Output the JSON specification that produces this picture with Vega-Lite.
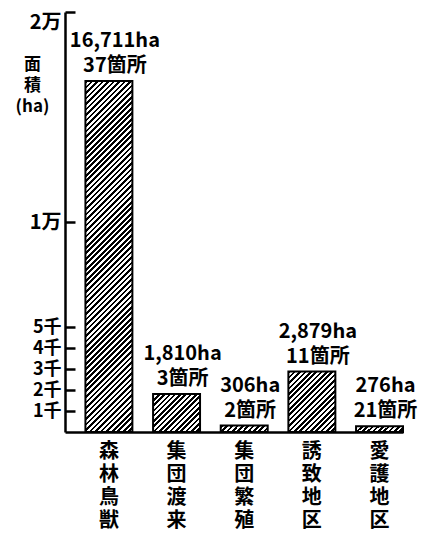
{
"$schema":"https://vega.github.io/schema/vega-lite/v6.json",
"autosize":"none",
"width":338,"height":420,
"padding":{"left":65,"top":12,"right":25,"bottom":104},
"background":"#ffffff",
"config":{"view":{"stroke":null},"font":"Noto Sans CJK JP"},
"data":{"values":[
{"cat":"森林鳥獣","area":16711,"sites":37},
{"cat":"集団渡来","area":1810,"sites":3},
{"cat":"集団繁殖","area":306,"sites":2},
{"cat":"誘致地区","area":2879,"sites":11},
{"cat":"愛護地区","area":276,"sites":21}
]},
"transform":[
{"calculate":"format(datum.area, ',') + 'ha'","as":"l1"},
{"calculate":"datum.sites + '箇所'","as":"l2"}
],
"encoding":{
"x":{"field":"cat","type":"nominal","sort":null,
"scale":{"paddingInner":0.306,"paddingOuter":0.151,"align":1},
"axis":{"title":null,"ticks":false,"labelAngle":0,"labelExpr":"split(datum.label, '')","labelBaseline":"top","labelLineHeight":23,"labelFontSize":20,"labelFontWeight":"bold","labelColor":"#000","labelPadding":9,"domainColor":"#000","domainWidth":2.5}}
},
"resolve":{"axis":{"y":"independent"}},
"layer":[
{"mark":{"type":"bar","stroke":"#000","strokeWidth":2},
"encoding":{
"y":{"field":"area","type":"quantitative",
"scale":{"domain":[0,20000],"nice":false},
"axis":{"orient":"left","values":[1000,2000,3000,4000,5000,10000,20000],"grid":false,"ticks":false,
"labelExpr":"datum.value >= 10000 ? (datum.value/10000) + '万' : (datum.value/1000) + '千'",
"labelFontSize":{"condition":{"test":"datum.value < 10000","value":18},"value":20},
"labelFontWeight":"bold","labelColor":"#000","labelFlush":true,"labelPadding":4,
"domainColor":"#000","domainWidth":2.5,
"title":["面","積","(ha)"],"titleAngle":0,"titleX":-33,"titleY":44,"titleAlign":"center","titleBaseline":"top","titleFontSize":17,"titleFontWeight":"bold","titleLineHeight":21,"titleColor":"#000"}},
"fill":{"condition":[
{"test":"datum.cat==='森林鳥獣'","value":{"gradient":"linear","x1":0,"y1":0,"x2":0.14902,"y2":1.11385,"stops":[
{"offset":0.0069,"color":"#000"},{"offset":0.0069,"color":"#fff"},
{"offset":0.0139,"color":"#fff"},{"offset":0.0139,"color":"#000"},
{"offset":0.0208,"color":"#000"},{"offset":0.0208,"color":"#fff"},
{"offset":0.0278,"color":"#fff"},{"offset":0.0278,"color":"#000"},
{"offset":0.0347,"color":"#000"},{"offset":0.0347,"color":"#fff"},
{"offset":0.0417,"color":"#fff"},{"offset":0.0417,"color":"#000"},
{"offset":0.0486,"color":"#000"},{"offset":0.0486,"color":"#fff"},
{"offset":0.0556,"color":"#fff"},{"offset":0.0556,"color":"#000"},
{"offset":0.0625,"color":"#000"},{"offset":0.0625,"color":"#fff"},
{"offset":0.0694,"color":"#fff"},{"offset":0.0694,"color":"#000"},
{"offset":0.0764,"color":"#000"},{"offset":0.0764,"color":"#fff"},
{"offset":0.0833,"color":"#fff"},{"offset":0.0833,"color":"#000"},
{"offset":0.0903,"color":"#000"},{"offset":0.0903,"color":"#fff"},
{"offset":0.0972,"color":"#fff"},{"offset":0.0972,"color":"#000"},
{"offset":0.1042,"color":"#000"},{"offset":0.1042,"color":"#fff"},
{"offset":0.1111,"color":"#fff"},{"offset":0.1111,"color":"#000"},
{"offset":0.1181,"color":"#000"},{"offset":0.1181,"color":"#fff"},
{"offset":0.125,"color":"#fff"},{"offset":0.125,"color":"#000"},
{"offset":0.1319,"color":"#000"},{"offset":0.1319,"color":"#fff"},
{"offset":0.1389,"color":"#fff"},{"offset":0.1389,"color":"#000"},
{"offset":0.1458,"color":"#000"},{"offset":0.1458,"color":"#fff"},
{"offset":0.1528,"color":"#fff"},{"offset":0.1528,"color":"#000"},
{"offset":0.1597,"color":"#000"},{"offset":0.1597,"color":"#fff"},
{"offset":0.1667,"color":"#fff"},{"offset":0.1667,"color":"#000"},
{"offset":0.1736,"color":"#000"},{"offset":0.1736,"color":"#fff"},
{"offset":0.1806,"color":"#fff"},{"offset":0.1806,"color":"#000"},
{"offset":0.1875,"color":"#000"},{"offset":0.1875,"color":"#fff"},
{"offset":0.1944,"color":"#fff"},{"offset":0.1944,"color":"#000"},
{"offset":0.2014,"color":"#000"},{"offset":0.2014,"color":"#fff"},
{"offset":0.2083,"color":"#fff"},{"offset":0.2083,"color":"#000"},
{"offset":0.2153,"color":"#000"},{"offset":0.2153,"color":"#fff"},
{"offset":0.2222,"color":"#fff"},{"offset":0.2222,"color":"#000"},
{"offset":0.2292,"color":"#000"},{"offset":0.2292,"color":"#fff"},
{"offset":0.2361,"color":"#fff"},{"offset":0.2361,"color":"#000"},
{"offset":0.2431,"color":"#000"},{"offset":0.2431,"color":"#fff"},
{"offset":0.25,"color":"#fff"},{"offset":0.25,"color":"#000"},
{"offset":0.2569,"color":"#000"},{"offset":0.2569,"color":"#fff"},
{"offset":0.2639,"color":"#fff"},{"offset":0.2639,"color":"#000"},
{"offset":0.2708,"color":"#000"},{"offset":0.2708,"color":"#fff"},
{"offset":0.2778,"color":"#fff"},{"offset":0.2778,"color":"#000"},
{"offset":0.2847,"color":"#000"},{"offset":0.2847,"color":"#fff"},
{"offset":0.2917,"color":"#fff"},{"offset":0.2917,"color":"#000"},
{"offset":0.2986,"color":"#000"},{"offset":0.2986,"color":"#fff"},
{"offset":0.3056,"color":"#fff"},{"offset":0.3056,"color":"#000"},
{"offset":0.3125,"color":"#000"},{"offset":0.3125,"color":"#fff"},
{"offset":0.3194,"color":"#fff"},{"offset":0.3194,"color":"#000"},
{"offset":0.3264,"color":"#000"},{"offset":0.3264,"color":"#fff"},
{"offset":0.3333,"color":"#fff"},{"offset":0.3333,"color":"#000"},
{"offset":0.3403,"color":"#000"},{"offset":0.3403,"color":"#fff"},
{"offset":0.3472,"color":"#fff"},{"offset":0.3472,"color":"#000"},
{"offset":0.3542,"color":"#000"},{"offset":0.3542,"color":"#fff"},
{"offset":0.3611,"color":"#fff"},{"offset":0.3611,"color":"#000"},
{"offset":0.3681,"color":"#000"},{"offset":0.3681,"color":"#fff"},
{"offset":0.375,"color":"#fff"},{"offset":0.375,"color":"#000"},
{"offset":0.3819,"color":"#000"},{"offset":0.3819,"color":"#fff"},
{"offset":0.3889,"color":"#fff"},{"offset":0.3889,"color":"#000"},
{"offset":0.3958,"color":"#000"},{"offset":0.3958,"color":"#fff"},
{"offset":0.4028,"color":"#fff"},{"offset":0.4028,"color":"#000"},
{"offset":0.4097,"color":"#000"},{"offset":0.4097,"color":"#fff"},
{"offset":0.4167,"color":"#fff"},{"offset":0.4167,"color":"#000"},
{"offset":0.4236,"color":"#000"},{"offset":0.4236,"color":"#fff"},
{"offset":0.4306,"color":"#fff"},{"offset":0.4306,"color":"#000"},
{"offset":0.4375,"color":"#000"},{"offset":0.4375,"color":"#fff"},
{"offset":0.4444,"color":"#fff"},{"offset":0.4444,"color":"#000"},
{"offset":0.4514,"color":"#000"},{"offset":0.4514,"color":"#fff"},
{"offset":0.4583,"color":"#fff"},{"offset":0.4583,"color":"#000"},
{"offset":0.4653,"color":"#000"},{"offset":0.4653,"color":"#fff"},
{"offset":0.4722,"color":"#fff"},{"offset":0.4722,"color":"#000"},
{"offset":0.4792,"color":"#000"},{"offset":0.4792,"color":"#fff"},
{"offset":0.4861,"color":"#fff"},{"offset":0.4861,"color":"#000"},
{"offset":0.4931,"color":"#000"},{"offset":0.4931,"color":"#fff"},
{"offset":0.5,"color":"#fff"},{"offset":0.5,"color":"#000"},
{"offset":0.5069,"color":"#000"},{"offset":0.5069,"color":"#fff"},
{"offset":0.5139,"color":"#fff"},{"offset":0.5139,"color":"#000"},
{"offset":0.5208,"color":"#000"},{"offset":0.5208,"color":"#fff"},
{"offset":0.5278,"color":"#fff"},{"offset":0.5278,"color":"#000"},
{"offset":0.5347,"color":"#000"},{"offset":0.5347,"color":"#fff"},
{"offset":0.5417,"color":"#fff"},{"offset":0.5417,"color":"#000"},
{"offset":0.5486,"color":"#000"},{"offset":0.5486,"color":"#fff"},
{"offset":0.5556,"color":"#fff"},{"offset":0.5556,"color":"#000"},
{"offset":0.5625,"color":"#000"},{"offset":0.5625,"color":"#fff"},
{"offset":0.5694,"color":"#fff"},{"offset":0.5694,"color":"#000"},
{"offset":0.5764,"color":"#000"},{"offset":0.5764,"color":"#fff"},
{"offset":0.5833,"color":"#fff"},{"offset":0.5833,"color":"#000"},
{"offset":0.5903,"color":"#000"},{"offset":0.5903,"color":"#fff"},
{"offset":0.5972,"color":"#fff"},{"offset":0.5972,"color":"#000"},
{"offset":0.6042,"color":"#000"},{"offset":0.6042,"color":"#fff"},
{"offset":0.6111,"color":"#fff"},{"offset":0.6111,"color":"#000"},
{"offset":0.6181,"color":"#000"},{"offset":0.6181,"color":"#fff"},
{"offset":0.625,"color":"#fff"},{"offset":0.625,"color":"#000"},
{"offset":0.6319,"color":"#000"},{"offset":0.6319,"color":"#fff"},
{"offset":0.6389,"color":"#fff"},{"offset":0.6389,"color":"#000"},
{"offset":0.6458,"color":"#000"},{"offset":0.6458,"color":"#fff"},
{"offset":0.6528,"color":"#fff"},{"offset":0.6528,"color":"#000"},
{"offset":0.6597,"color":"#000"},{"offset":0.6597,"color":"#fff"},
{"offset":0.6667,"color":"#fff"},{"offset":0.6667,"color":"#000"},
{"offset":0.6736,"color":"#000"},{"offset":0.6736,"color":"#fff"},
{"offset":0.6806,"color":"#fff"},{"offset":0.6806,"color":"#000"},
{"offset":0.6875,"color":"#000"},{"offset":0.6875,"color":"#fff"},
{"offset":0.6944,"color":"#fff"},{"offset":0.6944,"color":"#000"},
{"offset":0.7014,"color":"#000"},{"offset":0.7014,"color":"#fff"},
{"offset":0.7083,"color":"#fff"},{"offset":0.7083,"color":"#000"},
{"offset":0.7153,"color":"#000"},{"offset":0.7153,"color":"#fff"},
{"offset":0.7222,"color":"#fff"},{"offset":0.7222,"color":"#000"},
{"offset":0.7292,"color":"#000"},{"offset":0.7292,"color":"#fff"},
{"offset":0.7361,"color":"#fff"},{"offset":0.7361,"color":"#000"},
{"offset":0.7431,"color":"#000"},{"offset":0.7431,"color":"#fff"},
{"offset":0.75,"color":"#fff"},{"offset":0.75,"color":"#000"},
{"offset":0.7569,"color":"#000"},{"offset":0.7569,"color":"#fff"},
{"offset":0.7639,"color":"#fff"},{"offset":0.7639,"color":"#000"},
{"offset":0.7708,"color":"#000"},{"offset":0.7708,"color":"#fff"},
{"offset":0.7778,"color":"#fff"},{"offset":0.7778,"color":"#000"},
{"offset":0.7847,"color":"#000"},{"offset":0.7847,"color":"#fff"},
{"offset":0.7917,"color":"#fff"},{"offset":0.7917,"color":"#000"},
{"offset":0.7986,"color":"#000"},{"offset":0.7986,"color":"#fff"},
{"offset":0.8056,"color":"#fff"},{"offset":0.8056,"color":"#000"},
{"offset":0.8125,"color":"#000"},{"offset":0.8125,"color":"#fff"},
{"offset":0.8194,"color":"#fff"},{"offset":0.8194,"color":"#000"},
{"offset":0.8264,"color":"#000"},{"offset":0.8264,"color":"#fff"},
{"offset":0.8333,"color":"#fff"},{"offset":0.8333,"color":"#000"},
{"offset":0.8403,"color":"#000"},{"offset":0.8403,"color":"#fff"},
{"offset":0.8472,"color":"#fff"},{"offset":0.8472,"color":"#000"},
{"offset":0.8542,"color":"#000"},{"offset":0.8542,"color":"#fff"},
{"offset":0.8611,"color":"#fff"},{"offset":0.8611,"color":"#000"},
{"offset":0.8681,"color":"#000"},{"offset":0.8681,"color":"#fff"},
{"offset":0.875,"color":"#fff"},{"offset":0.875,"color":"#000"},
{"offset":0.8819,"color":"#000"},{"offset":0.8819,"color":"#fff"},
{"offset":0.8889,"color":"#fff"},{"offset":0.8889,"color":"#000"},
{"offset":0.8958,"color":"#000"},{"offset":0.8958,"color":"#fff"},
{"offset":0.9028,"color":"#fff"},{"offset":0.9028,"color":"#000"},
{"offset":0.9097,"color":"#000"},{"offset":0.9097,"color":"#fff"},
{"offset":0.9167,"color":"#fff"},{"offset":0.9167,"color":"#000"},
{"offset":0.9236,"color":"#000"},{"offset":0.9236,"color":"#fff"},
{"offset":0.9306,"color":"#fff"},{"offset":0.9306,"color":"#000"},
{"offset":0.9375,"color":"#000"},{"offset":0.9375,"color":"#fff"},
{"offset":0.9444,"color":"#fff"},{"offset":0.9444,"color":"#000"},
{"offset":0.9514,"color":"#000"},{"offset":0.9514,"color":"#fff"},
{"offset":0.9583,"color":"#fff"},{"offset":0.9583,"color":"#000"},
{"offset":0.9653,"color":"#000"},{"offset":0.9653,"color":"#fff"},
{"offset":0.9722,"color":"#fff"},{"offset":0.9722,"color":"#000"},
{"offset":0.9792,"color":"#000"},{"offset":0.9792,"color":"#fff"},
{"offset":0.9861,"color":"#fff"},{"offset":0.9861,"color":"#000"},
{"offset":0.9931,"color":"#000"},{"offset":0.9931,"color":"#fff"}
]}},
{"test":"datum.cat==='集団渡来'","value":{"gradient":"linear","x1":0,"y1":0,"x2":1.0931,"y2":0.885,"stops":[
{"offset":0.0313,"color":"#000"},{"offset":0.0313,"color":"#fff"},
{"offset":0.0625,"color":"#fff"},{"offset":0.0625,"color":"#000"},
{"offset":0.0938,"color":"#000"},{"offset":0.0938,"color":"#fff"},
{"offset":0.125,"color":"#fff"},{"offset":0.125,"color":"#000"},
{"offset":0.1563,"color":"#000"},{"offset":0.1563,"color":"#fff"},
{"offset":0.1875,"color":"#fff"},{"offset":0.1875,"color":"#000"},
{"offset":0.2188,"color":"#000"},{"offset":0.2188,"color":"#fff"},
{"offset":0.25,"color":"#fff"},{"offset":0.25,"color":"#000"},
{"offset":0.2813,"color":"#000"},{"offset":0.2813,"color":"#fff"},
{"offset":0.3125,"color":"#fff"},{"offset":0.3125,"color":"#000"},
{"offset":0.3438,"color":"#000"},{"offset":0.3438,"color":"#fff"},
{"offset":0.375,"color":"#fff"},{"offset":0.375,"color":"#000"},
{"offset":0.4063,"color":"#000"},{"offset":0.4063,"color":"#fff"},
{"offset":0.4375,"color":"#fff"},{"offset":0.4375,"color":"#000"},
{"offset":0.4688,"color":"#000"},{"offset":0.4688,"color":"#fff"},
{"offset":0.5,"color":"#fff"},{"offset":0.5,"color":"#000"},
{"offset":0.5313,"color":"#000"},{"offset":0.5313,"color":"#fff"},
{"offset":0.5625,"color":"#fff"},{"offset":0.5625,"color":"#000"},
{"offset":0.5938,"color":"#000"},{"offset":0.5938,"color":"#fff"},
{"offset":0.625,"color":"#fff"},{"offset":0.625,"color":"#000"},
{"offset":0.6563,"color":"#000"},{"offset":0.6563,"color":"#fff"},
{"offset":0.6875,"color":"#fff"},{"offset":0.6875,"color":"#000"},
{"offset":0.7188,"color":"#000"},{"offset":0.7188,"color":"#fff"},
{"offset":0.75,"color":"#fff"},{"offset":0.75,"color":"#000"},
{"offset":0.7813,"color":"#000"},{"offset":0.7813,"color":"#fff"},
{"offset":0.8125,"color":"#fff"},{"offset":0.8125,"color":"#000"},
{"offset":0.8438,"color":"#000"},{"offset":0.8438,"color":"#fff"},
{"offset":0.875,"color":"#fff"},{"offset":0.875,"color":"#000"},
{"offset":0.9063,"color":"#000"},{"offset":0.9063,"color":"#fff"},
{"offset":0.9375,"color":"#fff"},{"offset":0.9375,"color":"#000"},
{"offset":0.9688,"color":"#000"},{"offset":0.9688,"color":"#fff"}
]}},
{"test":"datum.cat==='誘致地区'","value":{"gradient":"linear","x1":0,"y1":0,"x2":0.8606,"y2":1.1082,"stops":[
{"offset":0.025,"color":"#000"},{"offset":0.025,"color":"#fff"},
{"offset":0.05,"color":"#fff"},{"offset":0.05,"color":"#000"},
{"offset":0.075,"color":"#000"},{"offset":0.075,"color":"#fff"},
{"offset":0.1,"color":"#fff"},{"offset":0.1,"color":"#000"},
{"offset":0.125,"color":"#000"},{"offset":0.125,"color":"#fff"},
{"offset":0.15,"color":"#fff"},{"offset":0.15,"color":"#000"},
{"offset":0.175,"color":"#000"},{"offset":0.175,"color":"#fff"},
{"offset":0.2,"color":"#fff"},{"offset":0.2,"color":"#000"},
{"offset":0.225,"color":"#000"},{"offset":0.225,"color":"#fff"},
{"offset":0.25,"color":"#fff"},{"offset":0.25,"color":"#000"},
{"offset":0.275,"color":"#000"},{"offset":0.275,"color":"#fff"},
{"offset":0.3,"color":"#fff"},{"offset":0.3,"color":"#000"},
{"offset":0.325,"color":"#000"},{"offset":0.325,"color":"#fff"},
{"offset":0.35,"color":"#fff"},{"offset":0.35,"color":"#000"},
{"offset":0.375,"color":"#000"},{"offset":0.375,"color":"#fff"},
{"offset":0.4,"color":"#fff"},{"offset":0.4,"color":"#000"},
{"offset":0.425,"color":"#000"},{"offset":0.425,"color":"#fff"},
{"offset":0.45,"color":"#fff"},{"offset":0.45,"color":"#000"},
{"offset":0.475,"color":"#000"},{"offset":0.475,"color":"#fff"},
{"offset":0.5,"color":"#fff"},{"offset":0.5,"color":"#000"},
{"offset":0.525,"color":"#000"},{"offset":0.525,"color":"#fff"},
{"offset":0.55,"color":"#fff"},{"offset":0.55,"color":"#000"},
{"offset":0.575,"color":"#000"},{"offset":0.575,"color":"#fff"},
{"offset":0.6,"color":"#fff"},{"offset":0.6,"color":"#000"},
{"offset":0.625,"color":"#000"},{"offset":0.625,"color":"#fff"},
{"offset":0.65,"color":"#fff"},{"offset":0.65,"color":"#000"},
{"offset":0.675,"color":"#000"},{"offset":0.675,"color":"#fff"},
{"offset":0.7,"color":"#fff"},{"offset":0.7,"color":"#000"},
{"offset":0.725,"color":"#000"},{"offset":0.725,"color":"#fff"},
{"offset":0.75,"color":"#fff"},{"offset":0.75,"color":"#000"},
{"offset":0.775,"color":"#000"},{"offset":0.775,"color":"#fff"},
{"offset":0.8,"color":"#fff"},{"offset":0.8,"color":"#000"},
{"offset":0.825,"color":"#000"},{"offset":0.825,"color":"#fff"},
{"offset":0.85,"color":"#fff"},{"offset":0.85,"color":"#000"},
{"offset":0.875,"color":"#000"},{"offset":0.875,"color":"#fff"},
{"offset":0.9,"color":"#fff"},{"offset":0.9,"color":"#000"},
{"offset":0.925,"color":"#000"},{"offset":0.925,"color":"#fff"},
{"offset":0.95,"color":"#fff"},{"offset":0.95,"color":"#000"},
{"offset":0.975,"color":"#000"},{"offset":0.975,"color":"#fff"}
]}},
{"test":"datum.cat==='集団繁殖' || datum.cat==='愛護地区'","value":{"gradient":"linear","x1":0,"y1":0,"x2":1.111,"y2":0.145,"stops":[
{"offset":0.05,"color":"#000"},{"offset":0.05,"color":"#fff"},
{"offset":0.1,"color":"#fff"},{"offset":0.1,"color":"#000"},
{"offset":0.15,"color":"#000"},{"offset":0.15,"color":"#fff"},
{"offset":0.2,"color":"#fff"},{"offset":0.2,"color":"#000"},
{"offset":0.25,"color":"#000"},{"offset":0.25,"color":"#fff"},
{"offset":0.3,"color":"#fff"},{"offset":0.3,"color":"#000"},
{"offset":0.35,"color":"#000"},{"offset":0.35,"color":"#fff"},
{"offset":0.4,"color":"#fff"},{"offset":0.4,"color":"#000"},
{"offset":0.45,"color":"#000"},{"offset":0.45,"color":"#fff"},
{"offset":0.5,"color":"#fff"},{"offset":0.5,"color":"#000"},
{"offset":0.55,"color":"#000"},{"offset":0.55,"color":"#fff"},
{"offset":0.6,"color":"#fff"},{"offset":0.6,"color":"#000"},
{"offset":0.65,"color":"#000"},{"offset":0.65,"color":"#fff"},
{"offset":0.7,"color":"#fff"},{"offset":0.7,"color":"#000"},
{"offset":0.75,"color":"#000"},{"offset":0.75,"color":"#fff"},
{"offset":0.8,"color":"#fff"},{"offset":0.8,"color":"#000"},
{"offset":0.85,"color":"#000"},{"offset":0.85,"color":"#fff"},
{"offset":0.9,"color":"#fff"},{"offset":0.9,"color":"#000"},
{"offset":0.95,"color":"#000"},{"offset":0.95,"color":"#fff"}
]}}
],"value":"#ffffff"}}},
{"mark":{"type":"text","align":"center","baseline":"alphabetic","dx":6,"dy":-34,"fontSize":20,"fontWeight":"bold","color":"#000"},
"encoding":{
"y":{"field":"area","type":"quantitative",
"axis":{"orient":"right","offset":-338,"values":[1000,2000,3000,4000,5000,10000,20000],"grid":false,"labels":false,"domain":false,"ticks":true,"tickSize":10,"tickWidth":2.5,"tickColor":"#000","title":null}},
"text":{"field":"l1"}}},
{"mark":{"type":"text","align":"center","baseline":"alphabetic","dx":6,"dy":-9,"fontSize":20,"fontWeight":"bold","color":"#000"},
"encoding":{
"y":{"field":"area","type":"quantitative","axis":null},
"text":{"field":"l2"}}}
]
}
